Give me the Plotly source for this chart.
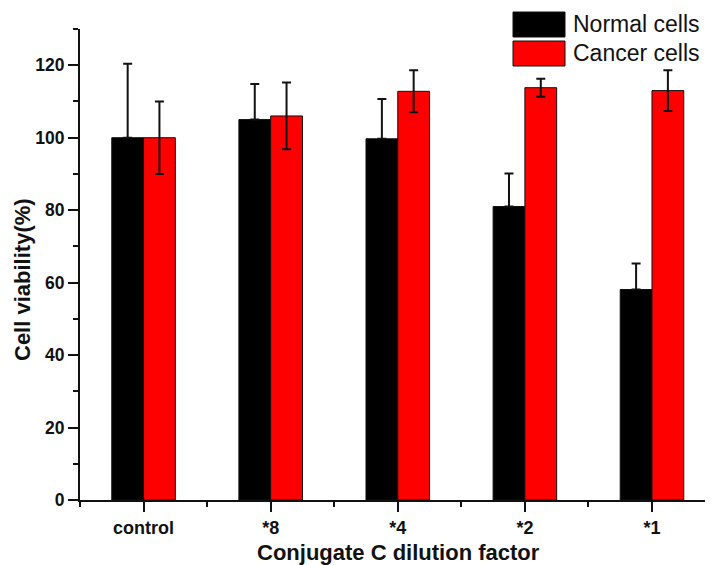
import plotly.graph_objects as go

categories = ["control", "*8", "*4", "*2", "*1"]
normal_vals = [100, 105, 99.7, 81, 58.1]
normal_err = [20.4, 9.8, 11, 9.1, 7.2]
cancer_vals = [100, 106, 112.8, 113.8, 113]
cancer_err = [10, 9.2, 5.8, 2.5, 5.6]
series_names = ["Normal cells", "Cancer cells"]
series_colors = ["#000000", "#ff0000"]

xpos = list(range(len(categories)))
FONT = "Arial, Liberation Sans, sans-serif"

# page body adds an 8px offset; size figure accordingly
OFF = 8
W, H = 713 - OFF, 565 - OFF
ML, MR, MT, MB = 80 - OFF, 0, 29 - OFF, 65
pw = W - ML - MR
ph = H - MT - MB


def px(sx):
    return (sx - 80) / pw


def py(sy):
    return (500 - sy) / ph


fig = go.Figure()
for name, vals, err, col, hide_lower in zip(series_names, [normal_vals, cancer_vals],
                                            [normal_err, cancer_err], series_colors,
                                            [True, False]):
    fig.add_trace(go.Bar(
        x=xpos, y=vals, name=name,
        marker=dict(color=col, line=dict(color="#111111", width=1)),
        error_y=dict(type="data", array=err,
                     arrayminus=[0] * len(err) if hide_lower else err,
                     symmetric=False, visible=True, color="#111111",
                     thickness=2, width=4.5),
        showlegend=False,
    ))

fig.update_layout(
    width=W, height=H,
    margin=dict(l=ML, r=MR, t=MT, b=MB, pad=0),
    paper_bgcolor="white", plot_bgcolor="white",
    barmode="group", bargap=0.5, bargroupgap=0,
    font=dict(family=FONT, color="#111111"),
)
fig.update_xaxes(
    range=[-0.5, 4.48], tickvals=xpos, ticktext=categories,
    showline=True, linecolor="#111111", linewidth=2,
    ticks="outside", ticklen=10, tickwidth=2, tickcolor="#111111",
    tickfont=dict(size=18, family=FONT, weight="bold"),
    minor=dict(tickvals=[-0.5, 0.5, 1.5, 2.5, 3.5], ticks="outside",
               ticklen=5, tickwidth=2, tickcolor="#111111"),
    showgrid=False, zeroline=False,
)
fig.update_yaxes(
    range=[0, 130], tickvals=[0, 20, 40, 60, 80, 100, 120],
    showline=True, linecolor="#111111", linewidth=2,
    ticks="outside", ticklen=10, tickwidth=2, tickcolor="#111111",
    tickfont=dict(size=17.5, family=FONT, weight="bold"),
    minor=dict(tickvals=[10, 30, 50, 70, 90, 110, 130], ticks="outside",
               ticklen=5, tickwidth=2, tickcolor="#111111"),
    showgrid=False, zeroline=False,
)

# axis titles
fig.add_annotation(text="<b>Conjugate C dilution factor</b>", xref="paper", yref="paper",
                   x=px(398), y=py(552), xanchor="center", yanchor="middle", showarrow=False,
                   font=dict(size=22, family=FONT, color="#111111"))
fig.add_annotation(text="<b>Cell viability(%)</b>", xref="paper", yref="paper",
                   x=px(22), y=py(280), xanchor="center", yanchor="middle", showarrow=False,
                   textangle=-90, font=dict(size=22, family=FONT, color="#111111"))

# custom legend
box_x0, box_x1 = 513, 565
rows = [(12, 37), (41, 66)]
for (y0, y1), name, col in zip(rows, series_names, series_colors):
    fig.add_shape(type="rect", xref="paper", yref="paper",
                  x0=px(box_x0), x1=px(box_x1), y0=py(y1), y1=py(y0),
                  fillcolor=col, line=dict(color="#111111", width=1))
    fig.add_annotation(text=name, xref="paper", yref="paper",
                       x=px(571), y=py((y0 + y1) / 2),
                       xanchor="left", yanchor="middle", showarrow=False,
                       font=dict(size=23, family=FONT, color="#111111"))

fig.write_html("out.html")
